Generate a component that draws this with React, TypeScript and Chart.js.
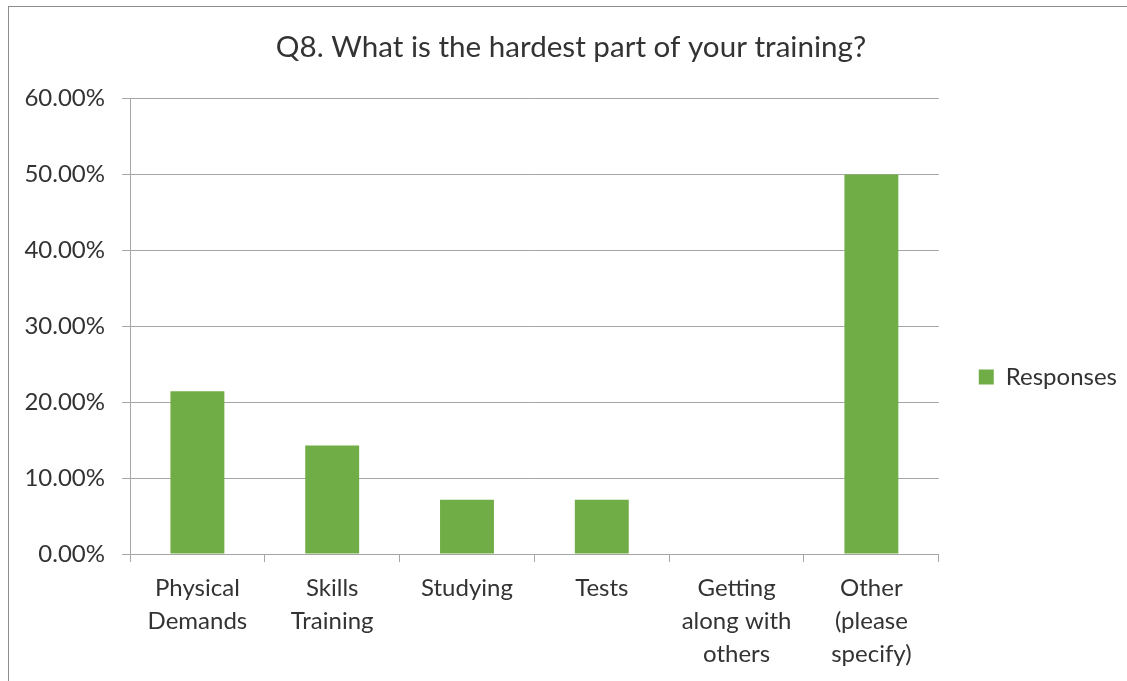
import React, { useEffect, useRef } from "react";
import { Chart, registerables } from "chart.js";

Chart.register(...registerables);

const titleText = "Q8. What is the hardest part of your training?";
const seriesName = "Responses";
const categories: string[][] = [
  ["Physical", "Demands"],
  ["Skills", "Training"],
  ["Studying"],
  ["Tests"],
  ["Getting", "along with", "others"],
  ["Other", "(please", "specify)"],
];
const responses: number[] = [21.43, 14.29, 7.14, 7.14, 0, 50];
const yTicks: number[] = [0, 10, 20, 30, 40, 50, 60];

const FONT = "Lato";
const TEXT = "#333333";
const GRID = "#a6a6a6";
const BAR = "#70AD47";

export default function App() {
  const ref = useRef<HTMLCanvasElement | null>(null);

  useEffect(() => {
    if (!ref.current) return;
    const chart = new Chart(ref.current, {
      type: "bar",
      data: {
        labels: categories,
        datasets: [
          {
            label: seriesName,
            data: responses,
            backgroundColor: BAR,
            borderWidth: 0,
            categoryPercentage: 1,
            barPercentage: 0.4,
          },
        ],
      },
      options: {
        responsive: false,
        animation: false,
        devicePixelRatio: 1,
        layout: { padding: { left: 7, right: 0, top: 0, bottom: 0 } },
        plugins: {
          tooltip: { enabled: false },
          title: {
            display: true,
            text: titleText,
            color: TEXT,
            font: { family: FONT, size: 29.6, weight: "normal", lineHeight: 1.2 },
            padding: { top: 24, bottom: 33 },
          },
          legend: {
            display: true,
            position: "right",
            labels: {
              boxWidth: 15,
              boxHeight: 15,
              padding: 40,
              color: TEXT,
              font: { family: FONT, size: 24 },
            },
          },
        },
        scales: {
          x: {
            offset: true,
            afterFit: (scale: any) => {
              scale.height = 194;
            },
            grid: {
              display: true,
              drawOnChartArea: false,
              drawTicks: true,
              tickLength: 8,
              offset: true,
              color: GRID,
            },
            border: { display: true, color: GRID },
            ticks: {
              color: TEXT,
              padding: 10,
              maxRotation: 0,
              autoSkip: false,
              font: { family: FONT, size: 24, lineHeight: 1.375 },
            },
          },
          y: {
            min: yTicks[0],
            max: yTicks[yTicks.length - 1],
            afterFit: (scale: any) => {
              scale.width = 115;
            },
            grid: {
              color: GRID,
              tickLength: 8,
              drawTicks: true,
            },
            border: { display: true, color: GRID },
            ticks: {
              stepSize: yTicks[1] - yTicks[0],
              color: TEXT,
              padding: 17,
              font: { family: FONT, size: 24 },
              callback: (v: any) => Number(v).toFixed(2) + "%",
            },
          },
        },
      },
    });
    return () => chart.destroy();
  }, []);

  return (
    <div
      style={{
        position: "fixed",
        left: 0,
        top: 0,
        width: 1127,
        height: 681,
        overflow: "hidden",
        background: "#ffffff",
      }}
    >
      <div
        style={{
          position: "absolute",
          left: 8,
          top: 6,
          width: 1300,
          height: 900,
          borderLeft: "1px solid #8c8c8c",
          borderTop: "1px solid #8c8c8c",
          boxSizing: "border-box",
        }}
      />
      <canvas
        ref={ref}
        width={1119}
        height={742}
        style={{ position: "absolute", left: 8, top: 6, width: 1119, height: 742 }}
      />
    </div>
  );
}
